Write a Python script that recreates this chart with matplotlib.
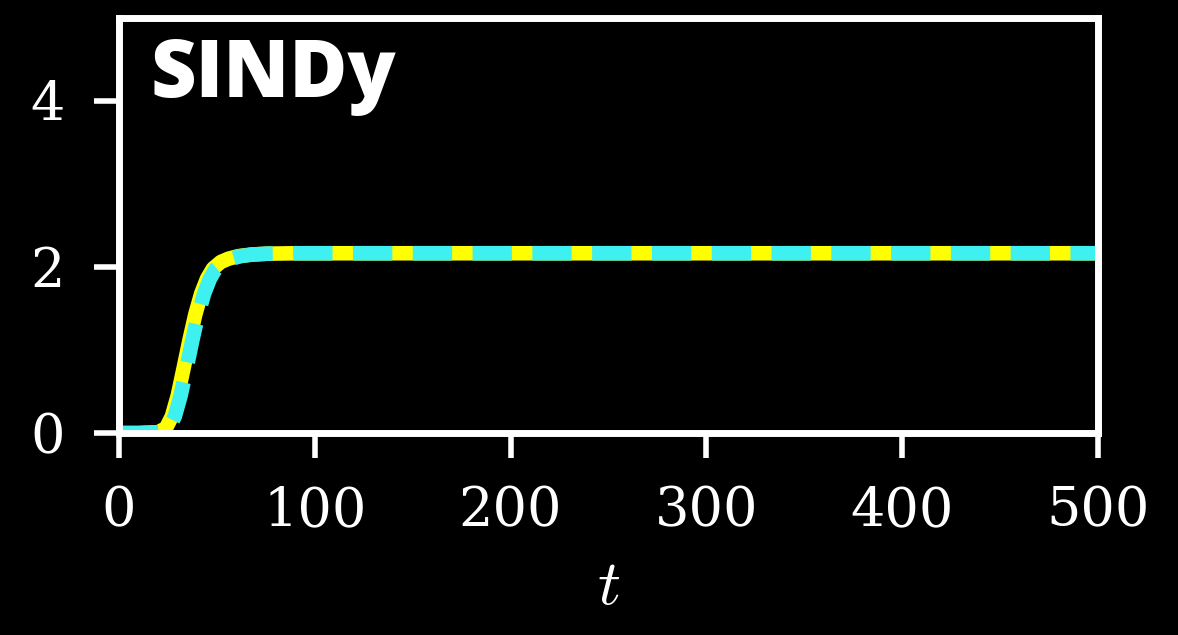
import matplotlib
matplotlib.use("Agg")
import matplotlib.pyplot as plt

# trajectories: reference solution (yellow) and SINDy model (cyan, dashed)
t_true = [0, 10, 20, 24, 27, 30, 33, 36, 39, 42, 45, 48, 52, 56, 61, 68, 76, 90, 200, 300, 400, 500]
x_true = [0, 0, 0.01, 0.06, 0.2, 0.45, 0.78, 1.12, 1.43, 1.68, 1.86, 1.98, 2.06, 2.10, 2.13, 2.15, 2.16, 2.165, 2.165, 2.165, 2.165, 2.165]

t_sindy = [0, 10, 21.5, 25.5, 28.5, 31.5, 34.5, 37.5, 40.5, 43.5, 46.5, 49.5, 53.5, 57.5, 62, 68, 76, 90, 200, 300, 400, 500]
x_sindy = [0, 0, 0.01, 0.06, 0.2, 0.45, 0.78, 1.12, 1.43, 1.68, 1.86, 1.98, 2.06, 2.10, 2.13, 2.15, 2.16, 2.165, 2.165, 2.165, 2.165, 2.165]

xticks = [0, 100, 200, 300, 400, 500]
yticks = [0, 2, 4]

plt.rcParams['mathtext.fontset'] = 'cm'

fig = plt.figure(figsize=(11.78, 6.35), dpi=100, facecolor='black')
ax = fig.add_axes([0.101, 0.318, 0.831, 0.654])
ax.set_facecolor('black')

ax.plot(t_true, x_true, color='#ffff00', lw=10.5, solid_capstyle='butt', zorder=2)
ax.plot(t_sindy, x_sindy, color='#3ff0f0', lw=10.5, dashes=(2.7, 1.4),
        dash_capstyle='butt', zorder=3)

ax.set_xlim(0, 500)
ax.set_ylim(0, 5)
ax.set_xticks(xticks)
ax.set_yticks(yticks)

for s in ax.spines.values():
    s.set_color('white')
    s.set_linewidth(5)
    s.set_zorder(4)

ax.tick_params(colors='white', width=4, length=18)
ax.tick_params(axis='x', pad=20)
ax.tick_params(axis='y', pad=21)
for lab in ax.get_xticklabels() + ax.get_yticklabels():
    lab.set_family('DejaVu Serif')
    lab.set_fontsize(39)

ax.set_xlabel(r'$t$', color='white', fontsize=46, labelpad=12)

ax.text(0.032, 0.955, 'SINDy', transform=ax.transAxes, color='white',
        fontsize=57, fontweight=800, family='Open Sans', va='top', ha='left')

fig.savefig('out.png', dpi=100, facecolor='black')
